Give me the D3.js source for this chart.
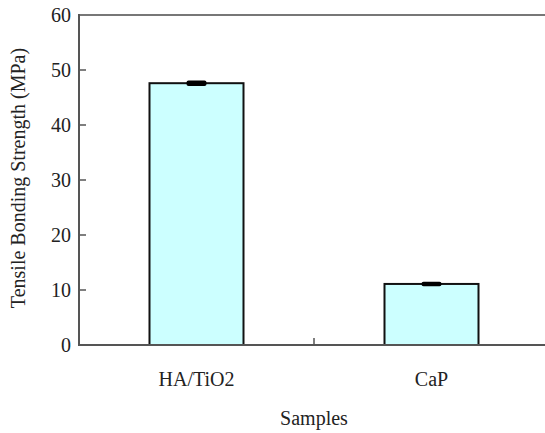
<!DOCTYPE html>
<html>
<head>
<meta charset="utf-8">
<script src="https://cdn.jsdelivr.net/npm/d3@7"></script>
<style>
  body { margin: 0; background: #fff; }
  text { font-family: "Liberation Serif", "Times New Roman", serif; fill: #222; }
</style>
</head>
<body>
<div class="canvas"></div>
<script>
// data
const samples = ['HA/TiO2', 'CaP'];
const strength = [47.6, 11.1];
const errors = [0.5, 0.4];
const yTicks = [0, 10, 20, 30, 40, 50, 60];

const W = 545, H = 433;
const plotLeft = 79, plotRight = 549, plotTop = 15, plotBottom = 345;
const fs = 20;

const svg = d3.select('.canvas').append('svg')
    .attr('width', W)
    .attr('height', H);

const x = d3.scaleBand()
    .domain(samples)
    .range([plotLeft, plotRight])
    .paddingInner(0.6)
    .paddingOuter(0.3);

const y = d3.scaleLinear()
    .domain([0, 60])
    .range([plotBottom, plotTop]);

// bars
svg.selectAll('rect.bar')
    .data(samples)
    .enter().append('rect')
    .attr('class', 'bar')
    .attr('x', d => x(d))
    .attr('y', (d, i) => y(strength[i]))
    .attr('width', x.bandwidth())
    .attr('height', (d, i) => y(0) - y(strength[i]))
    .attr('fill', '#ccffff')
    .attr('stroke', '#111')
    .attr('stroke-width', 2);

// error bars (tiny, so they look like a thick cap)
const capW = 20;
samples.forEach((d, i) => {
    const cx = x(d) + x.bandwidth() / 2;
    svg.append('rect')
        .attr('x', cx - capW / 2)
        .attr('y', y(strength[i] + errors[i]))
        .attr('width', capW)
        .attr('height', y(strength[i] - errors[i]) - y(strength[i] + errors[i]))
        .attr('rx', 2)
        .attr('fill', '#000');
});

// axes
const yAxis = d3.axisLeft(y).tickValues(yTicks).tickSize(0).tickPadding(8);
const gy = svg.append('g')
    .attr('transform', `translate(${plotLeft},0)`)
    .call(yAxis);
gy.select('.domain').remove();
gy.selectAll('text')
    .attr('font-size', fs)
    .attr('font-family', '"Liberation Serif", serif')
    .attr('fill', '#333');

// inward tick marks on y
svg.selectAll('line.ytick')
    .data(yTicks.slice(1, -1))
    .enter().append('line')
    .attr('x1', plotLeft).attr('x2', plotLeft + 7)
    .attr('y1', d => y(d)).attr('y2', d => y(d))
    .attr('stroke', '#555').attr('stroke-width', 1.5);

// frame lines
svg.append('line')
    .attr('x1', plotLeft).attr('x2', W)
    .attr('y1', plotTop).attr('y2', plotTop)
    .attr('stroke', '#777').attr('stroke-width', 2);
svg.append('line')
    .attr('x1', plotLeft).attr('x2', W)
    .attr('y1', plotBottom).attr('y2', plotBottom)
    .attr('stroke', '#555').attr('stroke-width', 2);
svg.append('line')
    .attr('x1', plotLeft).attr('x2', plotLeft)
    .attr('y1', plotTop - 1).attr('y2', plotBottom + 1)
    .attr('stroke', '#555').attr('stroke-width', 2);

// category separator tick
svg.append('line')
    .attr('x1', plotLeft + x.step()).attr('x2', plotLeft + x.step())
    .attr('y1', plotBottom).attr('y2', plotBottom - 7)
    .attr('stroke', '#555').attr('stroke-width', 1.5);

// category labels
svg.selectAll('text.cat')
    .data(samples)
    .enter().append('text')
    .attr('class', 'cat')
    .attr('x', d => x(d) + x.bandwidth() / 2)
    .attr('y', 386)
    .attr('text-anchor', 'middle')
    .attr('font-size', fs)
    .text(d => d);

// axis titles
svg.append('text')
    .attr('x', plotLeft + x.step())
    .attr('y', 425)
    .attr('text-anchor', 'middle')
    .attr('font-size', fs)
    .text('Samples');

svg.append('text')
    .attr('transform', 'translate(25,178) rotate(-90)')
    .attr('text-anchor', 'middle')
    .attr('font-size', fs)
    .text('Tensile Bonding Strength (MPa)');
</script>
</body>
</html>
